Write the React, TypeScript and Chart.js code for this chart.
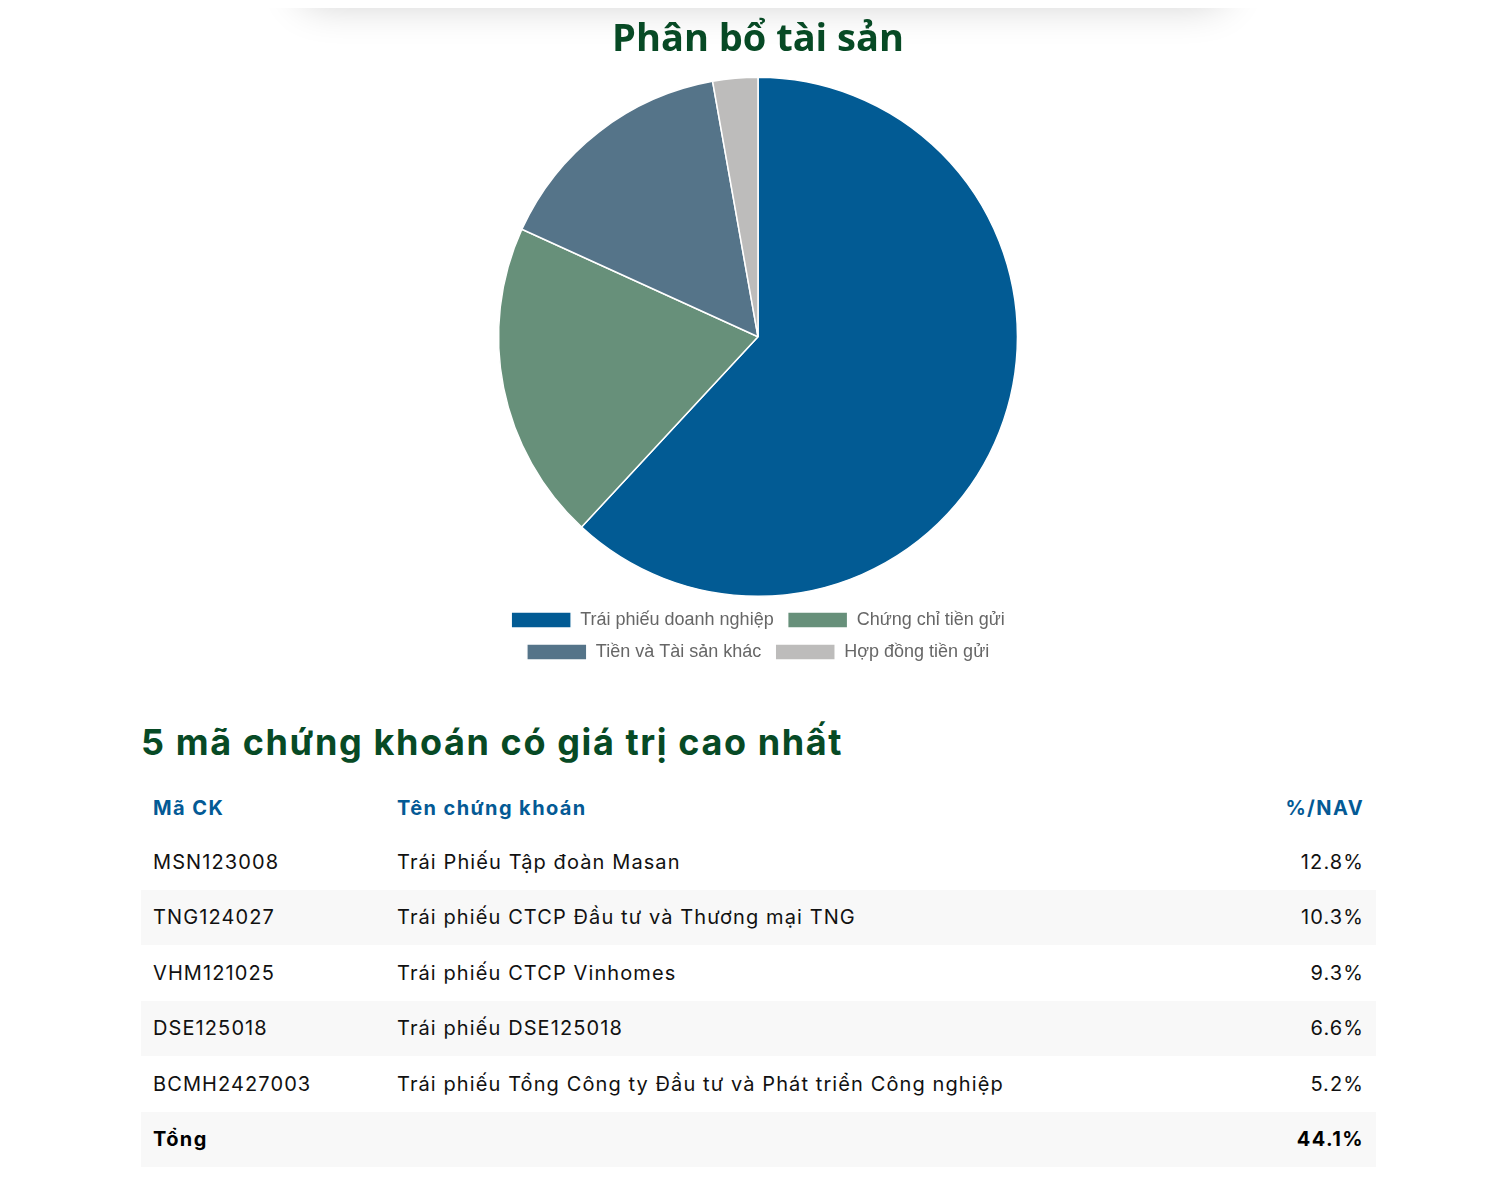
import React, { useEffect, useRef } from "react";
import { Chart, registerables } from "chart.js";

Chart.register(...registerables);

const chartTitle = "Phân bổ tài sản";
const assetLabels = [
  "Trái phiếu doanh nghiệp",
  "Chứng chỉ tiền gửi",
  "Tiền và Tài sản khác",
  "Hợp đồng tiền gửi",
];
const assetValues = [61.9, 19.9, 15.4, 2.8];
const assetColors = ["#025b94", "#67907a", "#557489", "#bdbcbb"];

const tableTitle = "5 mã chứng khoán có giá trị cao nhất";
const tableHeaders = ["Mã CK", "Tên chứng khoán", "%/NAV"];
const stockCodes = ["MSN123008", "TNG124027", "VHM121025", "DSE125018", "BCMH2427003"];
const stockNames = [
  "Trái Phiếu Tập đoàn Masan",
  "Trái phiếu CTCP Đầu tư và Thương mại TNG",
  "Trái phiếu CTCP Vinhomes",
  "Trái phiếu DSE125018",
  "Trái phiếu Tổng Công ty Đầu tư và Phát triển Công nghiệp",
];
const stockNav = ["12.8%", "10.3%", "9.3%", "6.6%", "5.2%"];
const totalLabel = "Tổng";
const totalNav = "44.1%";

const GREEN = "#074a25";
const BLUE = "#045a95";
const TABLE_FONT = "Inter, 'Noto Sans', sans-serif";

function PieChart() {
  const ref = useRef<HTMLCanvasElement | null>(null);
  useEffect(() => {
    if (!ref.current) return;
    const chart = new Chart(ref.current, {
      type: "pie",
      data: {
        labels: assetLabels,
        datasets: [
          {
            data: assetValues,
            backgroundColor: assetColors,
            borderColor: "#ffffff",
            borderWidth: 1.5,
          },
        ],
      },
      options: {
        animation: false,
        responsive: true,
        maintainAspectRatio: false,
        layout: { padding: 0 },
        plugins: {
          title: {
            display: true,
            text: chartTitle,
            color: GREEN,
            font: { family: "'Open Sans', sans-serif", size: 38, weight: "bold", lineHeight: 1.2 },
            padding: { top: 9, bottom: 14 },
          },
          legend: {
            position: "bottom",
            labels: {
              boxWidth: 60,
              boxHeight: 16,
              padding: 14,
              color: "#666666",
              font: { family: "'Liberation Sans', Arial, Helvetica, sans-serif", size: 18 },
            },
          },
          tooltip: { enabled: false },
        },
      },
    });
    return () => chart.destroy();
  }, []);
  return (
    <div style={{ position: "relative", width: 540, height: 663, marginLeft: 347 }}>
      <canvas ref={ref} />
    </div>
  );
}

const cellBase: React.CSSProperties = {
  padding: "0 12px",
  height: 55.5,
  fontFamily: TABLE_FONT,
  fontSize: 20,
  letterSpacing: "1.1px",
  color: "#111111",
  verticalAlign: "middle",
};

const headCell: React.CSSProperties = {
  ...cellBase,
  color: BLUE,
  fontWeight: 700,
  height: 53,
  letterSpacing: "1.4px",
};

export default function App() {
  return (
    <div style={{ position: "relative" }}>
      <div
        style={{
          position: "absolute",
          top: -108,
          left: 292,
          width: 926,
          height: 100,
          background: "#fff",
          boxShadow: "0 4px 42px rgba(0,0,0,0.2)",
          borderRadius: 20,
        }}
      />
      <div style={{ marginLeft: 133, width: 1235 }}>
        <PieChart />
        <div
          style={{
            fontFamily: TABLE_FONT,
            fontWeight: 700,
            fontSize: 36,
            letterSpacing: "1.6px",
            color: GREEN,
            marginTop: 49,
            height: 44,
            lineHeight: "44px",
            whiteSpace: "nowrap",
          }}
        >
          {tableTitle}
        </div>
        <table
          style={{
            width: 1235,
            borderCollapse: "collapse",
            marginTop: 17,
          }}
        >
          <thead>
            <tr>
              <th style={{ ...headCell, width: 220, textAlign: "left" }}>{tableHeaders[0]}</th>
              <th style={{ ...headCell, textAlign: "left" }}>{tableHeaders[1]}</th>
              <th style={{ ...headCell, textAlign: "right" }}>{tableHeaders[2]}</th>
            </tr>
          </thead>
          <tbody>
            {stockCodes.map((code, i) => (
              <tr key={code} style={{ background: i % 2 === 1 ? "#f8f8f8" : "#ffffff" }}>
                <td style={{ ...cellBase, textAlign: "left" }}>{code}</td>
                <td style={{ ...cellBase, textAlign: "left" }}>{stockNames[i]}</td>
                <td style={{ ...cellBase, textAlign: "right" }}>{stockNav[i]}</td>
              </tr>
            ))}
            <tr style={{ background: "#f8f8f8" }}>
              <td style={{ ...cellBase, fontWeight: 700, color: "#000", letterSpacing: "1.4px" }}>{totalLabel}</td>
              <td style={cellBase}></td>
              <td style={{ ...cellBase, textAlign: "right", fontWeight: 700, color: "#000", letterSpacing: "1.4px" }}>
                {totalNav}
              </td>
            </tr>
          </tbody>
        </table>
      </div>
    </div>
  );
}
